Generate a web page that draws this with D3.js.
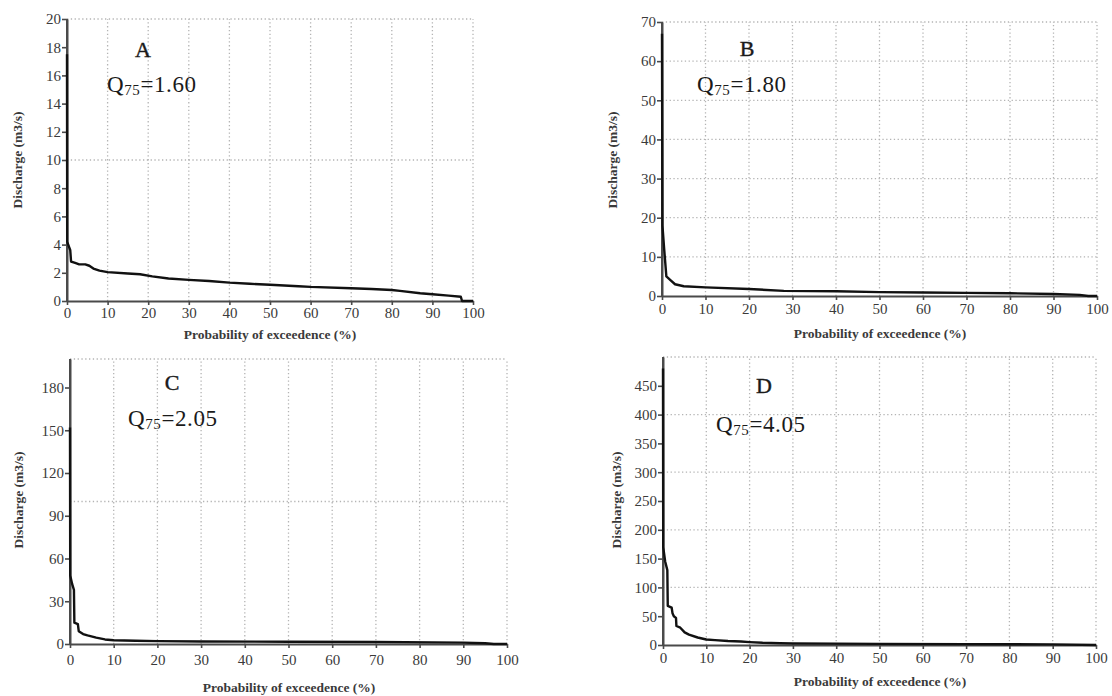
<!DOCTYPE html>
<html>
<head>
<meta charset="utf-8">
<script src="https://cdn.jsdelivr.net/npm/d3@7"></script>
<style>
  body { margin: 0; background: #fff; }
  svg { display: block; }
  .tick text { font-family: 'Liberation Serif', 'DejaVu Serif', serif; font-size: 15px; fill: #3a3a3a; }
  .axis path, .axis line { stroke: #4a4a4a; stroke-width: 1.6; }
  .axis path { stroke-width: 2; }
  .grid line { stroke: #b4b4b4; stroke-dasharray: 1.3 2.5; stroke-width: 1.3; }
  .atitle { font-family: 'Liberation Serif', serif; font-weight: bold; font-size: 13.5px; fill: #3a3a3a; }
  .plabel { font-family: 'Liberation Serif', serif; font-size: 22px; fill: #1a1a1a; stroke: #1a1a1a; stroke-width: 0.4; }
  .qlabel { font-family: 'Liberation Serif', serif; font-size: 23px; letter-spacing: 0.6px; fill: #1a1a1a; }
</style>
</head>
<body>
<div id="chart"></div>
<script>
// exceedance probability (%) and discharge (m3/s)
const exceedA = [0, 0.05, 0.3, 0.8, 1.0, 2, 3, 4.5, 5.5, 6.5, 8, 10, 15, 18, 21, 25, 30, 35, 40, 45, 50, 57, 60, 70, 75, 80, 82, 87, 90, 94, 97, 97.3, 100];
const dischargeA = [17.5, 4.2, 4.0, 3.6, 2.8, 2.7, 2.6, 2.6, 2.5, 2.3, 2.15, 2.05, 1.95, 1.9, 1.75, 1.6, 1.5, 1.42, 1.3, 1.22, 1.15, 1.05, 1.0, 0.9, 0.85, 0.78, 0.72, 0.55, 0.48, 0.38, 0.3, 0, 0];

const exceedB = [0, 0.1, 0.5, 1, 2, 3, 5, 10, 20, 28, 40, 50, 60, 70, 80, 90, 96, 98, 100];
const dischargeB = [67, 18, 12, 5, 4, 3, 2.5, 2.2, 1.8, 1.3, 1.2, 1.0, 0.9, 0.8, 0.7, 0.5, 0.3, 0, 0];

const exceedC = [0, 0.05, 0.5, 0.9, 1.0, 1.8, 2.0, 3, 4, 6, 8, 10, 15, 20, 30, 50, 70, 90, 95, 97, 100];
const dischargeC = [152, 48, 42, 38, 15, 14, 9, 7, 6, 4.5, 3.2, 2.6, 2.3, 2, 1.8, 1.6, 1.4, 1, 0.5, 0, 0];

const exceedD = [0, 0.05, 0.5, 1.0, 1.1, 2.0, 2.2, 2.5, 3.0, 3.1, 4, 5, 6, 8, 10, 12, 15, 18, 20, 23, 27, 30, 50, 70, 90, 100];
const dischargeD = [480, 170, 145, 130, 68, 65, 55, 50, 47, 33, 30, 22, 18, 13, 9.5, 8.5, 7, 6, 5, 3.8, 3, 2.6, 2, 1.5, 1, 0];

// y-axis tick labels and horizontal grid values per panel
const yTicksA = d3.range(0, 21, 2);
const yTicksB = d3.range(0, 71, 10);
const yTicksC = d3.range(0, 181, 30);
const yTicksD = d3.range(0, 451, 50);
const yGridA = [10, 20];
const yGridB = [10, 20, 30, 40, 50, 60, 70];
const yGridC = [100, 200];
const yGridD = [100, 200, 300, 400, 500];
const xTicks = d3.range(0, 101, 10);

const panelNames = ['A', 'B', 'C', 'D'];
const q75Values = ['1.60', '1.80', '2.05', '4.05'];

const svg = d3.select('#chart').append('svg')
  .attr('width', 1112)
  .attr('height', 696);

const panels = [
  { x: exceedA, y: dischargeA, yMax: 20, yTicks: yTicksA, yGrid: yGridA,
    box: { left: 67, right: 473, top: 19, bottom: 301 }, xPad: 2,
    yTitle: [17, 160], xTitle: [270, 339], name: [143, 57], q: [107, 92] },
  { x: exceedB, y: dischargeB, yMax: 70, yTicks: yTicksB, yGrid: yGridB,
    box: { left: 662, right: 1097, top: 22, bottom: 296 }, xPad: 3,
    yTitle: [612, 160], xTitle: [880, 338], name: [747, 56], q: [697, 92] },
  { x: exceedC, y: dischargeC, yMax: 200, yTicks: yTicksC, yGrid: yGridC,
    box: { left: 70, right: 507, top: 359, bottom: 644 }, xPad: 6,
    yTitle: [18, 500], xTitle: [289, 692], name: [172, 390], q: [128, 426] },
  { x: exceedD, y: dischargeD, yMax: 500, yTicks: yTicksD, yGrid: yGridD,
    box: { left: 663, right: 1096, top: 357, bottom: 645 }, xPad: 3,
    yTitle: [616, 500], xTitle: [880, 686], name: [764, 393], q: [716, 432] }
];

panels.forEach((p, i) => {
  const g = svg.append('g');
  const xScale = d3.scaleLinear().domain([0, 100]).range([p.box.left, p.box.right]);
  const yScale = d3.scaleLinear().domain([0, p.yMax]).range([p.box.bottom, p.box.top]);

  // dotted grid
  const grid = g.append('g').attr('class', 'grid');
  grid.selectAll('.vx').data(xTicks.filter((d) => d > 0)).join('line')
    .attr('x1', (d) => xScale(d)).attr('x2', (d) => xScale(d))
    .attr('y1', yScale(0)).attr('y2', yScale(p.yMax));
  grid.selectAll('.hy').data(p.yGrid).join('line')
    .attr('x1', xScale(0)).attr('x2', xScale(100))
    .attr('y1', (d) => yScale(d)).attr('y2', (d) => yScale(d));

  // axes
  const xAxis = d3.axisBottom(xScale).tickValues(xTicks).tickSize(4).tickPadding(p.xPad).tickSizeOuter(0);
  const yAxis = d3.axisLeft(yScale).tickValues(p.yTicks).tickSize(5).tickPadding(1).tickSizeOuter(0);
  g.append('g').attr('class', 'axis')
    .attr('transform', `translate(0, ${p.box.bottom})`).call(xAxis);
  g.append('g').attr('class', 'axis')
    .attr('transform', `translate(${p.box.left}, 0)`).call(yAxis);
  // axis line up to the top of the frame
  g.append('line')
    .attr('x1', p.box.left).attr('x2', p.box.left)
    .attr('y1', yScale(0)).attr('y2', yScale(p.yMax))
    .attr('stroke', '#4a4a4a').attr('stroke-width', 2);

  // duration curve
  const line = d3.line().x((d) => xScale(d[0])).y((d) => yScale(d[1]));
  g.append('path')
    .datum(d3.zip(p.x, p.y))
    .attr('d', line)
    .attr('fill', 'none')
    .attr('stroke', '#111')
    .attr('stroke-width', 2.4)
    .attr('stroke-linejoin', 'round');

  // titles
  g.append('text').attr('class', 'atitle')
    .attr('transform', `translate(${p.yTitle[0]}, ${p.yTitle[1]}) rotate(-90)`)
    .attr('text-anchor', 'middle').attr('dy', '0.35em')
    .text('Discharge (m3/s)');
  g.append('text').attr('class', 'atitle')
    .attr('x', p.xTitle[0]).attr('y', p.xTitle[1])
    .attr('text-anchor', 'middle')
    .text('Probability of exceedence (%)');

  // panel letter and Q75
  g.append('text').attr('class', 'plabel')
    .attr('x', p.name[0]).attr('y', p.name[1])
    .attr('text-anchor', 'middle')
    .text(panelNames[i]);
  const q = g.append('text').attr('class', 'qlabel')
    .attr('x', p.q[0]).attr('y', p.q[1]);
  q.append('tspan').text('Q');
  q.append('tspan').attr('font-size', '15px').attr('dy', 3).text('75');
  q.append('tspan').attr('dy', -3).text('=' + q75Values[i]);
});
</script>
</body>
</html>
